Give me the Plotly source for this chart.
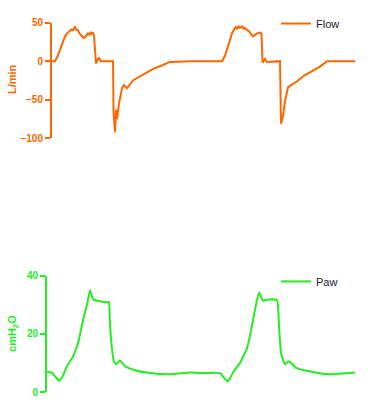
import plotly.graph_objects as go

# Time base (s)
flow_t = [0.10, 0.16, 0.22, 0.26, 0.30, 0.33, 0.36, 0.40, 0.43, 0.46, 0.49, 0.52, 0.54, 0.56, 0.58,
          0.62, 0.66, 0.70, 0.73, 0.76, 0.79, 0.82, 0.85, 0.88, 0.90, 0.92, 0.94, 0.96, 0.98,
          1.01, 1.04, 1.08, 1.32, 1.33, 1.34, 1.36, 1.38, 1.40, 1.44, 1.50, 1.54, 1.60,
          1.72, 1.92, 2.12, 2.32, 2.46, 2.86, 3.50, 3.56, 3.64, 3.70, 3.74, 3.77, 3.80,
          3.83, 3.86, 3.90, 3.93, 3.96, 4.00, 4.04, 4.08, 4.12, 4.16, 4.20, 4.26, 4.29,
          4.31, 4.36, 4.40, 4.66, 4.68, 4.70, 4.72, 4.76, 4.82, 4.88, 4.98, 5.16, 5.46,
          5.60, 6.16]
flow_v = [0, 0, 7.5, 15, 22, 28, 32, 36, 38, 39, 41, 40, 43, 45, 41,
          40, 35, 32, 30, 31, 33, 36, 34, 38, 35, 37, 33, 10, -3,
          2, 4, 0, 0, -65, -77, -92, -63, -75, -55, -35, -31, -35,
          -25, -17, -10, -5, -1, 0, 0, 7, 24, 36, 41, 44, 42,
          45, 43, 45, 42, 43, 40, 39, 35, 32, 34, 36, 37, 36,
          -2, 3, -1, 0, -81, -76, -71, -52, -34, -31, -27, -18, -7,
          0, 0]

paw_t = [0.00, 0.10, 0.16, 0.24, 0.30, 0.40, 0.52, 0.62, 0.72, 0.80, 0.86, 0.92, 1.06,
         1.22, 1.24, 1.26, 1.30, 1.34, 1.38, 1.46, 1.56, 1.76, 2.06, 2.46, 2.86, 3.16,
         3.46, 3.54, 3.62, 3.72, 3.86, 4.00, 4.10, 4.18, 4.24, 4.32, 4.42, 4.60, 4.64,
         4.68, 4.76, 4.84, 4.98, 5.32, 5.66, 6.16]
paw_v = [7.0, 6.8, 5.5, 4.0, 5.1, 9.0, 12.3, 16.8, 24.6, 30.0, 35.0, 32.0, 31.2,
         30.9, 31.0, 23.4, 15.0, 10.5, 9.6, 10.9, 9.0, 7.6, 6.6, 6.2, 6.8, 6.6,
         6.6, 5.0, 3.7, 6.8, 10.1, 15.1, 22.9, 30.1, 34.2, 31.4, 31.8, 31.6, 23.0,
         13.4, 9.6, 10.7, 8.4, 7.0, 6.2, 6.8]

flow_ticks = [-100, -50, 0, 50]
paw_ticks = [0, 20, 40]

ORANGE = "#FF6600"
GREEN = "#22EE22"
W, H = 374, 411

fig = go.Figure()
fig.add_trace(go.Scatter(x=flow_t, y=flow_v, mode="lines", name="Flow",
                         line=dict(color=ORANGE, width=2), xaxis="x", yaxis="y",
                         legend="legend"))
fig.add_trace(go.Scatter(x=paw_t, y=paw_v, mode="lines", name="Paw",
                         line=dict(color=GREEN, width=2, shape="spline", smoothing=0.4),
                         xaxis="x2", yaxis="y2", legend="legend2"))

axfont = dict(family="Liberation Sans, Arial", size=10, weight="bold")

fig.update_layout(
    width=W, height=H, margin=dict(l=0, r=0, t=0, b=0),
    paper_bgcolor="white", plot_bgcolor="white",
    xaxis=dict(domain=[52 / W, 355 / W], range=[0.10, 6.16], visible=False, anchor="y"),
    yaxis=dict(domain=[1 - 136 / H, 1 - 17 / H], range=[-100, 50], anchor="x",
               tickvals=flow_ticks, showgrid=False, zeroline=False,
               showline=True, linecolor=ORANGE, linewidth=2,
               ticks="outside", ticklen=5, tickwidth=2, tickcolor=ORANGE,
               tickfont=dict(color=ORANGE, **axfont)),
    xaxis2=dict(domain=[47 / W, 355 / W], range=[0, 6.16], visible=False, anchor="y2"),
    yaxis2=dict(domain=[1 - 397 / H, 1 - 277 / H], range=[0, 40], anchor="x2",
                tickvals=paw_ticks, showgrid=False, zeroline=False,
                showline=True, linecolor=GREEN, linewidth=2,
                ticks="outside", ticklen=5, tickwidth=2, tickcolor=GREEN,
                tickfont=dict(color=GREEN, **axfont)),
    legend=dict(x=276 / W, y=1 - 18 / H, xanchor="left", yanchor="middle",
                bgcolor="rgba(0,0,0,0)",
                font=dict(family="Liberation Sans, Arial", size=11, color="#1a1a2e")),
    legend2=dict(x=276 / W, y=1 - 283 / H, xanchor="left", yanchor="middle",
                 bgcolor="rgba(0,0,0,0)",
                 font=dict(family="Liberation Sans, Arial", size=11, color="#1a1a2e")),
    showlegend=True,
    annotations=[
        dict(text="L/min", x=12 / W, y=1 - 75 / H, xref="paper", yref="paper",
             xanchor="center", yanchor="middle",
             textangle=-90, showarrow=False,
             font=dict(family="Liberation Sans, Arial", size=11, color=ORANGE, weight="bold")),
        dict(text="cmH<sub>2</sub>O", x=13 / W, y=1 - 337 / H, xref="paper", yref="paper",
             xanchor="center", yanchor="middle",
             textangle=-90, showarrow=False,
             font=dict(family="Liberation Sans, Arial", size=11, color=GREEN, weight="bold")),
    ],
)

fig.write_html(
    "out.html", config={"displayModeBar": False},
    post_script=(
        "var s=document.createElement('style');"
        "s.textContent='html,body{margin:0;padding:0;overflow:hidden;width:374px;height:411px;}';"
        "document.head.appendChild(s);"
    ),
)
